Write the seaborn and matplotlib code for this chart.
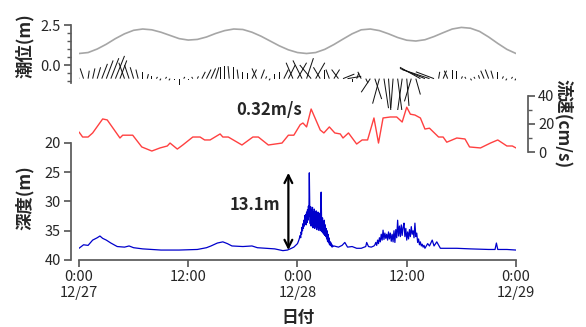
import numpy as np
import matplotlib
matplotlib.use("Agg")
import matplotlib.pyplot as plt
import seaborn as sns

# ---- data (hours from 0:00 12/27) ----
tide_hours = list(range(49))
tide_level = [0.72, 0.78, 1.00, 1.30, 1.65, 1.95, 2.17, 2.25, 2.20, 2.05, 1.85, 1.65, 1.56,
              1.60, 1.75, 1.97, 2.15, 2.25, 2.22, 2.05, 1.80, 1.50, 1.20, 0.95, 0.78, 0.72,
              0.78, 0.98, 1.28, 1.62, 1.95, 2.20, 2.25, 2.15, 1.95, 1.72, 1.55, 1.50, 1.58,
              1.78, 2.02, 2.25, 2.35, 2.30, 2.10, 1.75, 1.35, 0.98, 0.72]

# current vectors every 30 min (cm/s, east / north)
stick_hours = [i * 0.5 for i in range(97)]
stick_u = [-4, -3, 1, 2, 3, 5, 6, 7, 8, 6, -5, -4, -3, -2, 0, 1, 0, 1, -1, 1, -1, 0, 0, 1,
           0, -1, 1, 3, 4, 4, 3, 0, 0, -1, 0, -1, 0, 0, 4, -4, 3, 1, -1, 0, 0, 4, 6, -6,
           8, -8, 6, -10, 8, -6, 0, -3, 5, -6, 10, 12, 0, 2, -3, 2, -8, 6, -6, 4, 2, -2,
           4, -4, 2, -6, 4, -18, -22, -24, -16, 1, 3, -3, 0, 0, 1, -1, 1, -1, -1, -3, -3, -2,
           0, 1, -1, 1, -1]
stick_v = [10, 9, 7, 9, 10, 13, 16, 18, 20, 16, 14, 12, 10, 8, 6, 4, 2, 1.5, -1.5, 1.5, -1.5, -1.5, -6, 1.5,
           -1.5, 1.5, 2, 6, 8, 9, 10, 10, 11, 11, 10, 8, 6, 5, 8, 9, 8, 2, -1.5, 4, 6, 8, 12, 14,
           14, 16, 18, 12, 14, 10, 8, 8, 8, 8, 4, 2, -3, 5, 6, -4, -12, -18, -22, -26, -28, -26,
           -30, -28, -24, -20, -14, 10, 9, 8, 6, 6, 7, 7, 8, 7, 2, 1.5, -1.5, 1.5, 3, 7, 8, 7,
           6, 2, -1.5, 1.5, -1.5]

speed_hours = [0.0, 0.4, 1.0, 1.5, 2.6, 3.1, 4.5, 4.8, 5.9, 6.9, 8.0, 8.9, 9.7, 10.0, 10.8, 11.4,
               12.5, 13.3, 13.8, 14.4, 15.5, 15.8, 16.4, 17.9, 19.1, 19.7, 20.8, 22.3, 23.0, 23.6,
               24.3, 24.6, 25.0, 25.5, 26.5, 26.9, 27.5, 28.1, 28.7, 29.0, 29.6, 30.5, 31.1, 31.7,
               32.4, 32.9, 33.4, 34.2, 34.9, 35.5, 36.0, 36.4, 36.9, 37.5, 38.0, 38.5, 39.5, 40.0,
               40.4, 41.5, 42.4, 42.9, 44.1, 45.2, 46.0, 47.0, 47.6, 48.0]
speed_values = [14.3, 10.7, 10.7, 13.6, 23.6, 22.9, 10.0, 12.0, 12.0, 3.6, 0.7, 2.9, 4.3, 6.4, 2.1, 5.0,
                10.7, 10.7, 8.6, 8.6, 12.9, 10.7, 10.7, 5.0, 10.7, 10.7, 5.0, 6.4, 12.0, 12.0,
                19.5, 20.7, 17.9, 30.7, 15.7, 13.6, 17.9, 13.6, 12.9, 10.0, 13.6, 5.7, 8.6, 8.6,
                24.3, 6.4, 24.3, 25.0, 25.0, 21.4, 32.0, 27.0, 26.4, 24.3, 16.4, 17.0, 10.7, 10.7,
                7.0, 10.0, 9.3, 3.6, 2.9, 6.4, 8.6, 4.3, 4.3, 2.9]

# depth: calm stretches plus two noisy bursts sampled every 3 / 6 min
calm1_hours = [0.0, 0.5, 1.0, 1.5, 2.0, 2.3, 2.6, 3.0, 3.5, 4.2, 5.0, 5.5, 6.0, 7.0, 9.0, 11.0,
               13.0, 14.0, 14.5, 15.2, 15.8, 16.3, 16.8, 18.0, 19.0, 19.6, 20.5, 21.5, 22.4, 22.9,
               23.2, 23.6, 24.0, 24.15]
calm1_depth = [38.0, 37.4, 37.5, 36.6, 36.2, 35.9, 36.3, 36.6, 37.1, 37.7, 37.8, 37.6, 37.9, 38.1, 38.3, 38.3,
               38.2, 37.9, 37.6, 37.1, 36.9, 37.2, 37.6, 37.7, 37.6, 37.9, 38.0, 38.1, 38.4, 38.3,
               38.1, 37.8, 37.2, 36.6]
burst1_hours = [round(24.3 + 0.05 * i, 2) for i in range(73)]
burst1_depth = [35.8, 36.2, 35.2, 35.6, 34.4, 35.0, 33.8, 34.6, 33.2, 34.2, 32.4, 33.8, 32.2, 34.0,
                31.8, 33.6, 31.4, 33.2, 30.8, 32.6, 25.1, 31.2, 33.8, 30.9, 34.2, 31.5, 33.9, 31.0,
                34.5, 31.8, 34.0, 31.3, 34.6, 32.0,
                34.2, 31.6, 34.8, 32.2, 34.4, 31.8, 34.9, 32.5, 34.6, 32.0, 35.0, 31.4, 28.4, 33.6,
                35.2, 32.8, 35.4, 33.4, 35.6, 33.2,
                35.8, 34.0, 36.0, 34.6, 36.4, 35.0, 36.8, 35.6, 37.0, 36.2, 37.3, 36.8, 37.5, 37.0,
                37.6, 37.3, 37.8, 37.5, 37.7]
calm2_hours = [28.0, 28.5, 28.9, 29.2, 29.5, 30.0, 30.5, 31.0, 31.5, 31.6, 31.8, 32.1, 32.4]
calm2_depth = [37.6, 37.8, 37.5, 37.0, 37.8, 37.7, 38.0, 38.0, 37.7, 37.0, 37.7, 37.8, 37.6]
burst2_hours = [round(32.5 + 0.1 * i, 1) for i in range(56)]
burst2_depth = [37.4, 37.0, 37.5, 36.6, 37.2,
                36.2, 36.9, 35.6, 36.6, 34.9, 36.5, 35.4, 36.3, 35.6, 36.6,
                35.2, 36.4, 35.4, 36.8, 35.6, 36.9, 35.0, 37.0, 34.8, 36.2,
                33.2, 35.9, 34.2, 36.0, 34.0, 35.8, 34.4, 33.7, 36.0, 34.6,
                36.6, 35.2, 36.4, 34.8, 36.0, 34.3, 35.6, 35.0, 36.2, 33.7,
                36.0, 35.4, 37.0, 36.4, 37.4, 36.9, 37.6, 37.3, 37.8, 37.5,
                38.0]
calm3_hours = [38.3, 38.5, 38.8, 39.0, 39.3, 39.7, 40.5, 41.5, 43.0, 45.0, 45.7, 45.85, 46.0, 47.0, 48.0]
calm3_depth = [37.2, 37.6, 36.6, 37.6, 36.9, 38.0, 38.0, 38.0, 38.1, 38.2, 38.2, 37.1, 38.2, 38.2, 38.3]

depth_hours = calm1_hours + burst1_hours + calm2_hours + burst2_hours + calm3_hours
depth_values = calm1_depth + burst1_depth + calm2_depth + burst2_depth + calm3_depth

x_ticks = [0, 12, 24, 36, 48]
x_labels = ["0:00\n12/27", "12:00", "0:00\n12/28", "12:00", "0:00\n12/29"]

sns.set_theme(style="ticks")
plt.rcParams["font.family"] = ["Noto Sans CJK JP", "DejaVu Sans"]
spine_c = "#5a5a5a"

fig = plt.figure(figsize=(5.86, 3.27), dpi=100)

# ---- tide + current sticks ----
ax_t = fig.add_axes([0.1348, 0.6636, 0.7457, 0.2905])
ax_t.patch.set_alpha(0)
sns.lineplot(x=tide_hours, y=tide_level, ax=ax_t, color="#a6a6a6", lw=1.2)
base = np.full(len(stick_hours), -0.85)
ax_t.quiver(stick_hours, base, stick_u, stick_v, angles="uv", scale_units="inches",
            scale=88, units="dots", width=1.0, headwidth=0, headlength=0,
            headaxislength=0, color="#111111", pivot="tail", zorder=3)
ax_t.set_xlim(0, 48)
ax_t.set_ylim(-2.81, 3.125)
for s in ["top", "right", "bottom"]:
    ax_t.spines[s].set_visible(False)
ax_t.spines["left"].set_position(("outward", 6))
ax_t.spines["left"].set_bounds(-1.1, 2.5)
ax_t.spines["left"].set_color(spine_c)
ax_t.set_xticks([])
ax_t.set_yticks([0, 2.5])
ax_t.set_yticklabels(["0.0", "2.5"])
ax_t.set_yticks([-1.0, -0.5, 0.5, 1.0, 1.5, 2.0], minor=True)
ax_t.tick_params(axis="y", which="both", direction="out", color=spine_c, labelsize=10.5, pad=2)
ax_t.tick_params(axis="y", which="major", length=5)
ax_t.tick_params(axis="y", which="minor", length=3)
ax_t.set_xlabel("")
ax_t.set_ylabel("")

# ---- depth ----
ax = fig.add_axes([0.1348, 0.2049, 0.7457, 0.526])
ax.patch.set_alpha(0)
sns.lineplot(x=depth_hours, y=depth_values, ax=ax, color="#0000cc", lw=0.9, estimator=None)
ax.set_xlim(0, 48)
ax.set_ylim(40, 10.6)
for s in ["top", "right"]:
    ax.spines[s].set_visible(False)
ax.spines["left"].set_position(("outward", 6))
ax.spines["left"].set_bounds(20, 40)
ax.spines["left"].set_color(spine_c)
ax.spines["bottom"].set_color(spine_c)
ax.set_yticks([20, 25, 30, 35, 40])
ax.set_xticks(x_ticks)
ax.set_xticklabels(x_labels)
ax.tick_params(axis="both", direction="out", color=spine_c, length=5, labelsize=10.5, pad=2)
ax.set_xlabel("")
ax.set_ylabel("")

ax.annotate("", xy=(23.0, 38.3), xytext=(23.0, 25.1),
            arrowprops=dict(arrowstyle="<->", lw=1.6, color="black", mutation_scale=14,
                            shrinkA=0, shrinkB=0))
ax.text(19.3, 30.6, "13.1m", ha="center", va="center", fontsize=12, fontweight="bold")

# ---- current speed ----
ax2 = ax.twinx()
sns.lineplot(x=speed_hours, y=speed_values, ax=ax2, color="#ff4040", lw=1.0, estimator=None)
ax2.set_ylim(-77.1, 45.7)
for s in ["top", "left", "bottom"]:
    ax2.spines[s].set_visible(False)
ax2.spines["right"].set_position(("outward", 9))
ax2.spines["right"].set_bounds(0, 40)
ax2.spines["right"].set_color(spine_c)
ax2.set_yticks([0, 20, 40])
ax2.set_yticks([10, 30], minor=True)
ax2.tick_params(axis="y", which="both", direction="out", color=spine_c, labelsize=10.5, pad=2)
ax2.tick_params(axis="y", which="major", length=5)
ax2.tick_params(axis="y", which="minor", length=3)
ax2.set_ylabel("")
ax2.text(20.9, 30, "0.32m/s", ha="center", va="center", fontsize=12, fontweight="bold")

# ---- axis labels ----
fig.text(25 / 586, 1 - 45.5 / 327, "潮位(m)", rotation=90, ha="center", va="center",
         fontsize=12.5, fontweight="bold")
fig.text(25 / 586, 1 - 198 / 327, "深度(m)", rotation=90, ha="center", va="center",
         fontsize=12.5, fontweight="bold")
fig.text(563 / 586, 1 - 124 / 327, "流速(cm/s)", rotation=-90, ha="center", va="center",
         fontsize=12.5, fontweight="bold")
fig.text(298 / 586, 1 - 318 / 327, "日付", ha="center", va="center",
         fontsize=12, fontweight="bold")

fig.savefig("out.png", dpi=100)
